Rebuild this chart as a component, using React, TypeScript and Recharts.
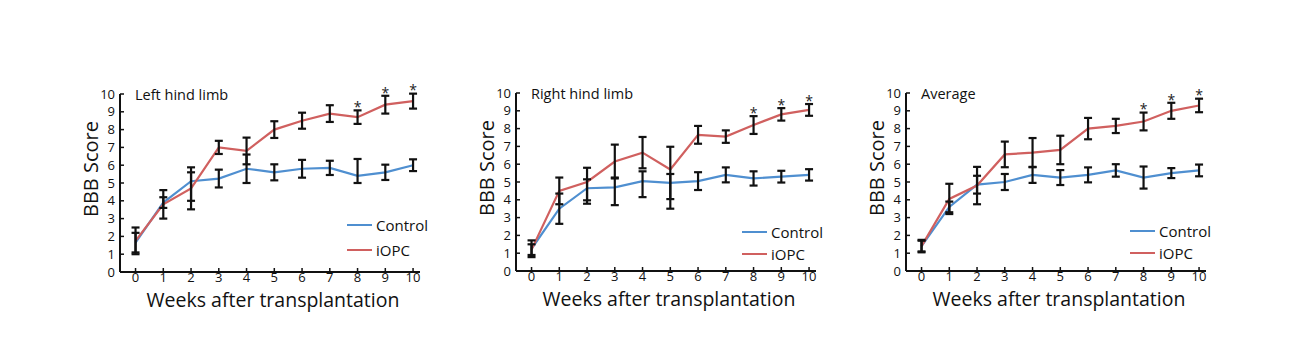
import React from 'react';
import { ComposedChart, Line, XAxis, YAxis, ErrorBar, Label, Legend, ReferenceDot } from 'recharts';

type Err = number | [number, number];

const weeks = [0, 1, 2, 3, 4, 5, 6, 7, 8, 9, 10];
const yTicks = [0, 1, 2, 3, 4, 5, 6, 7, 8, 9, 10];
const seriesNames = ['Control', 'iOPC'];
const panelTitles = ['Left hind limb', 'Right hind limb', 'Average'];
const xAxisTitle = 'Weeks after transplantation';
const yAxisTitle = 'BBB Score';
const sigWeeks = [8, 9, 10];

// Left hind limb
const leftControl = [1.65, 3.9, 5.1, 5.25, 5.8, 5.6, 5.8, 5.85, 5.4, 5.6, 6.0];
const leftControlErr: Err[] = [0.55, 0.3, [1.1, 0.5], 0.5, 0.8, 0.45, 0.5, 0.4, [0.4, 0.95], 0.43, 0.33];
const leftIopc = [1.75, 3.8, 4.7, 7.0, 6.8, 8.0, 8.5, 8.9, 8.7, 9.4, 9.6];
const leftIopcErr: Err[] = [0.75, 0.8, 1.18, 0.37, 0.75, 0.47, 0.45, 0.47, 0.38, 0.5, 0.42];

// Right hind limb
const rightControl = [1.25, 3.5, 4.65, 4.7, 5.05, 4.95, 5.05, 5.4, 5.2, 5.3, 5.4];
const rightControlErr: Err[] = [0.47, 0.85, [0.87, 0.5], [1.0, 0.55], [0.9, 0.55], [1.45, 0.5], 0.5, 0.42, 0.4, 0.33, 0.32];
const rightIopc = [1.2, 4.5, 5.0, 6.15, 6.65, 5.7, 7.65, 7.55, 8.2, 8.8, 9.05];
const rightIopcErr: Err[] = [0.3, 0.75, [1.03, 0.8], 0.95, 0.88, [1.66, 1.28], 0.5, 0.35, 0.5, 0.35, 0.33];

// Average
const avgControl = [1.4, 3.6, 4.85, 5.0, 5.4, 5.25, 5.4, 5.65, 5.25, 5.5, 5.65];
const avgControlErr: Err[] = [0.35, 0.3, 0.5, 0.45, 0.45, 0.42, 0.42, 0.35, 0.62, 0.28, 0.33];
const avgIopc = [1.4, 4.05, 4.8, 6.55, 6.65, 6.8, 8.0, 8.15, 8.4, 9.0, 9.3];
const avgIopcErr: Err[] = [0.3, 0.85, 1.05, 0.72, 0.82, 0.8, 0.6, 0.4, 0.5, 0.45, 0.38];

const BLUE = '#4f8fd0';
const RED = '#d0605f';
const INK = '#111111';
const FONT = '"Open Sans", "Noto Sans", sans-serif';

const CHART_W = 420;
const CHART_H = 260;
const Y_AXIS_W = 90;
const X_AXIS_H = 48;
const TOP_M = 34;

type PanelProps = {
  axisX: number;
  topY: number;
  title: string;
  ctrl: number[];
  ctrlErr: Err[];
  iopc: number[];
  iopcErr: Err[];
  legendX: number;
  legendY: number;
  legendRow: number;
};

function Panel(p: PanelProps) {
  const data = weeks.map((w, i) => ({
    week: w,
    ctrl: p.ctrl[i],
    ctrlErr: p.ctrlErr[i],
    iopc: p.iopc[i],
    iopcErr: p.iopcErr[i],
  }));
  const stars = sigWeeks.map((w) => {
    const i = weeks.indexOf(w);
    const e = p.iopcErr[i];
    const up = Array.isArray(e) ? e[1] : e;
    return { week: w, y: p.iopc[i] + up + 0.35 };
  });
  const chartLeft = p.axisX - Y_AXIS_W;
  const chartTop = p.topY - TOP_M;

  const renderLegend = () => (
    <div style={{ fontFamily: FONT, fontSize: 15, color: INK }}>
      {seriesNames.map((name, i) => (
        <div key={name} style={{ display: 'flex', alignItems: 'center', height: p.legendRow }}>
          <div style={{ width: 25, height: 2.5, background: i === 0 ? BLUE : RED, marginRight: 4 }} />
          <span style={{ lineHeight: 1 }}>{name}</span>
        </div>
      ))}
    </div>
  );

  return (
    <div style={{ position: 'absolute', left: chartLeft, top: chartTop, width: CHART_W, height: CHART_H }}>
      <ComposedChart
        width={CHART_W}
        height={CHART_H}
        data={data}
        margin={{ top: TOP_M, right: CHART_W - Y_AXIS_W - 300, bottom: 0, left: 0 }}
      >
        <XAxis
          dataKey="week"
          type="number"
          domain={[-0.56, 10.25]}
          allowDataOverflow
          ticks={weeks}
          interval={0}
          height={X_AXIS_H}
          axisLine={{ stroke: INK, strokeWidth: 2 }}
          tickLine={{ stroke: INK, strokeWidth: 1.5 }}
          tickSize={-4}
          tickMargin={5}
          tick={{ fontSize: 13, fill: INK, fontFamily: FONT }}
        >
          <Label
            content={(lp: any) => {
              const vb = lp.viewBox || {};
              return (
                <text
                  x={vb.x + vb.width / 2 + 3}
                  y={vb.y + 35}
                  textAnchor="middle"
                  fontSize={19.5}
                  fontFamily={FONT}
                  fill={INK}
                >
                  {xAxisTitle}
                </text>
              );
            }}
          />
        </XAxis>
        <YAxis
          type="number"
          domain={[0, 10]}
          allowDataOverflow
          ticks={yTicks}
          interval={0}
          width={Y_AXIS_W}
          axisLine={{ stroke: INK, strokeWidth: 2 }}
          tickLine={{ stroke: INK, strokeWidth: 1.5 }}
          tickSize={-4}
          tickMargin={9}
          tick={{ fontSize: 13, fill: INK, fontFamily: FONT }}
        >
          <Label
            content={(lp: any) => {
              const vb = lp.viewBox || {};
              const cx = vb.x + vb.width - 30;
              const cy = vb.y + vb.height / 2 - 14;
              return (
                <text
                  x={cx}
                  y={cy}
                  transform={`rotate(-90 ${cx} ${cy})`}
                  textAnchor="middle"
                  dominantBaseline="central"
                  fontSize={20}
                  fontFamily={FONT}
                  fill={INK}
                >
                  {yAxisTitle}
                </text>
              );
            }}
          />
        </YAxis>
        <Legend
          layout="vertical"
          align="center"
          verticalAlign="middle"
          wrapperStyle={{ left: p.legendX - chartLeft, top: p.legendY - chartTop - p.legendRow / 2, width: 'auto' }}
          content={renderLegend}
        />
        <Line dataKey="ctrl" name={seriesNames[0]} stroke={BLUE} strokeWidth={2.2} dot={false} isAnimationActive={false} />
        <Line dataKey="iopc" name={seriesNames[1]} stroke={RED} strokeWidth={2.2} dot={false} isAnimationActive={false} />
        <Line dataKey="ctrl" stroke="none" dot={false} isAnimationActive={false} legendType="none">
          <ErrorBar dataKey="ctrlErr" width={4} strokeWidth={2.2} stroke="#111" direction="y" />
        </Line>
        <Line dataKey="iopc" stroke="none" dot={false} isAnimationActive={false} legendType="none">
          <ErrorBar dataKey="iopcErr" width={4} strokeWidth={2.2} stroke="#111" direction="y" />
        </Line>
        {stars.map((s) => (
          <ReferenceDot
            key={s.week}
            x={s.week}
            y={s.y}
            r={3}
            ifOverflow="visible"
            shape={(sp: any) => (
              <text x={sp.cx} y={sp.cy + 8} textAnchor="middle" fontSize={14} fontFamily={FONT} fill="#222">
                *
              </text>
            )}
          />
        ))}
      </ComposedChart>
      <div
        style={{
          position: 'absolute',
          left: Y_AXIS_W + 15,
          top: TOP_M - 7,
          fontFamily: FONT,
          fontSize: 14.5,
          color: INK,
          lineHeight: '16px',
          whiteSpace: 'nowrap',
        }}
      >
        {p.title}
      </div>
    </div>
  );
}

export default function App() {
  return (
    <div style={{ position: 'absolute', left: 0, top: 0, width: 1300, height: 358, background: '#fff', fontFamily: FONT }}>
      <Panel
        axisX={120}
        topY={94}
        title={panelTitles[0]}
        ctrl={leftControl}
        ctrlErr={leftControlErr}
        iopc={leftIopc}
        iopcErr={leftIopcErr}
        legendX={347}
        legendY={225}
        legendRow={25}
      />
      <Panel
        axisX={516}
        topY={93}
        title={panelTitles[1]}
        ctrl={rightControl}
        ctrlErr={rightControlErr}
        iopc={rightIopc}
        iopcErr={rightIopcErr}
        legendX={742}
        legendY={232}
        legendRow={22}
      />
      <Panel
        axisX={906}
        topY={93}
        title={panelTitles[2]}
        ctrl={avgControl}
        ctrlErr={avgControlErr}
        iopc={avgIopc}
        iopcErr={avgIopcErr}
        legendX={1130}
        legendY={231}
        legendRow={22}
      />
    </div>
  );
}
